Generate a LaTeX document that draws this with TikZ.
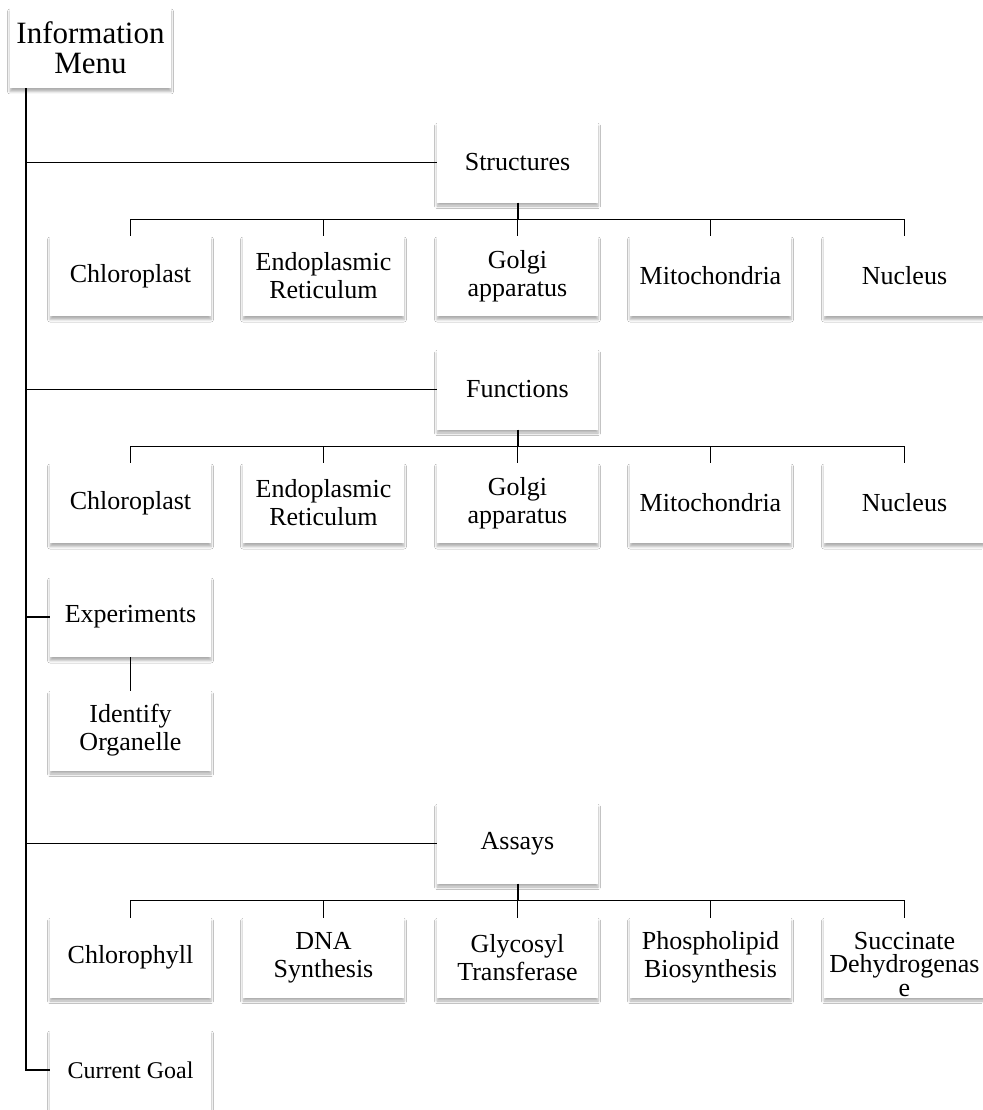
\documentclass[tikz,border=0pt]{standalone}
\usepackage{fontspec}
\setmainfont{Liberation Serif}
\usetikzlibrary{calc,shadows.blur}
\begin{document}
\begin{tikzpicture}[x=1pt,y=-1pt,
  box/.style={fill=white, minimum width=161pt, minimum height=80pt, inner sep=0pt,
    align=center, font=\fontsize{26}{28}\selectfont,
    blur shadow={shadow xshift=0pt, shadow yshift=-3.5pt, shadow blur radius=2.5pt, shadow opacity=32}},
  thinlink/.style={line width=1.3pt, line cap=rect},
  thicklink/.style={line width=2pt}]

% page
\path[use as bounding box, fill=white] (0,0) rectangle (982,1110);

% root and main branches
\node[box, font=\fontsize{31}{30}\selectfont] (info) at (90.5,48) {Information\\Menu};
\node[box] (struct) at (517.5,162.5) {Structures};
\node[box] (func) at (517.5,389.5) {Functions};
\node[box] (expt) at (130.5,617) {Experiments};
\node[box] (ident) at (130.5,730.5) {Identify\\Organelle};
\node[box] (assay) at (517.5,843.5) {Assays};
\node[box, font=\fontsize{24}{26}\selectfont] (goal) at (130.5,1070) {Current Goal};

% structures row
\node[box] (s1) at (130.5,276) {Chloroplast};
\node[box] (s2) at (323.5,276) {Endoplasmic\\Reticulum};
\node[box] (s3) at (517.5,276) {Golgi\\apparatus};
\node[box] (s4) at (710.5,276) {Mitochondria};
\node[box] (s5) at (904.5,276) {Nucleus};

% functions row
\node[box] (f1) at (130.5,503) {Chloroplast};
\node[box] (f2) at (323.5,503) {Endoplasmic\\Reticulum};
\node[box] (f3) at (517.5,503) {Golgi\\apparatus};
\node[box] (f4) at (710.5,503) {Mitochondria};
\node[box] (f5) at (904.5,503) {Nucleus};

% assays row
\node[box] (a1) at (130.5,957.5) {Chlorophyll};
\node[box] (a2) at (323.5,957.5) {DNA\\Synthesis};
\node[box] (a3) at (517.5,957.5) {Glycosyl\\Transferase};
\node[box] (a4) at (710.5,957.5) {Phospholipid\\Biosynthesis};
\node[box, font=\fontsize{26}{23.5}\selectfont] (a5) at (904.5,957.5)
  {\rule{0pt}{31pt}Succinate\\Dehydrogenas\\e};

% trunk
\coordinate (trunk) at (26,0);
\draw[thicklink] (info.south -| trunk) -- (trunk |- goal.west) -- (goal.west);
\foreach \n in {struct,func,expt,assay}
  \draw[thinlink] (trunk |- \n.west) -- (\n.west);

% buses
\foreach \p/\c in {struct/s, func/f, assay/a} {
  \path (\p.south) -- (\c3.north) coordinate[pos=0.5] (\c bus);
  \draw[thicklink] (\p.south) -- (\c bus);
  \draw[thinlink] (\c1.north) |- (\c bus) -| (\c5.north);
  \foreach \i in {2,3,4}
    \draw[thinlink] (\c\i.north) -- (\c\i.north |- \c bus);
}

% experiments child
\draw[thinlink] (expt.south) -- (ident.north);
\end{tikzpicture}
\end{document}
